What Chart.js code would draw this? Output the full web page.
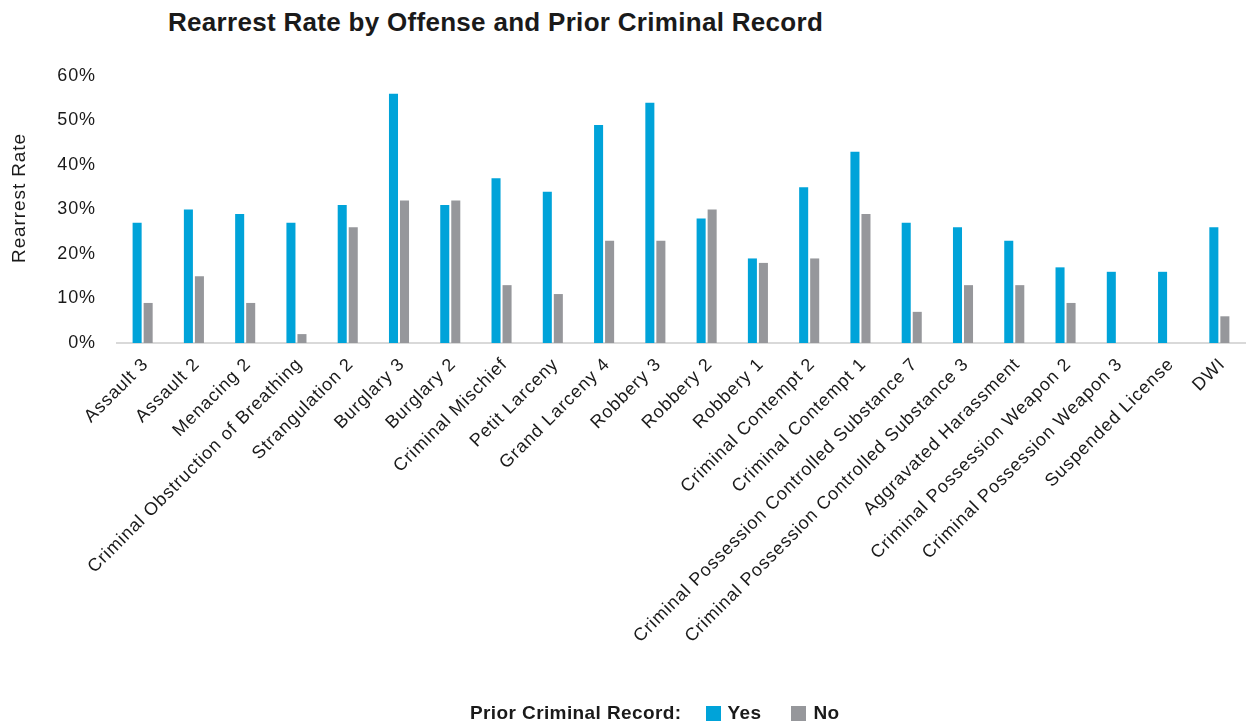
<!DOCTYPE html>
<html>
<head>
<meta charset="utf-8">
<script src="https://cdn.jsdelivr.net/npm/chart.js@4"></script>
<style>
  html, body { margin: 0; padding: 0; background: #fff; }
  body { width: 1249px; height: 727px; position: relative; overflow: hidden;
         font-family: "Liberation Sans", Arial, Helvetica, sans-serif; color: #1a1a1a; }
  #title { position: absolute; left: 168px; top: 7px; font-size: 26px; font-weight: bold;
           line-height: 30px; letter-spacing: 0.3px; white-space: nowrap; }
  #legend { position: absolute; left: 470px; top: 701px; display: flex; align-items: center;
            font-size: 19px; font-weight: bold; line-height: 24px; letter-spacing: 0.4px; white-space: nowrap; }
  #legend .box { width: 15px; height: 15px; display: inline-block; margin-right: 7px; }
  canvas { position: absolute; left: 0; top: 0; }
</style>
</head>
<body>
<div id="title">Rearrest Rate by Offense and Prior Criminal Record</div>
<canvas id="chart" width="1249" height="727"></canvas>
<div id="legend"></div>
<script>
// ---- Data ----
const offenses = [
  'Assault 3', 'Assault 2', 'Menacing 2', 'Criminal Obstruction of Breathing',
  'Strangulation 2', 'Burglary 3', 'Burglary 2', 'Criminal Mischief',
  'Petit Larceny', 'Grand Larceny 4', 'Robbery 3', 'Robbery 2', 'Robbery 1',
  'Criminal Contempt 2', 'Criminal Contempt 1',
  'Criminal Possession Controlled Substance 7',
  'Criminal Possession Controlled Substance 3',
  'Aggravated Harassment', 'Criminal Possession Weapon 2',
  'Criminal Possession Weapon 3', 'Suspended License', 'DWI'
];
const priorYes = [27, 30, 29, 27, 31, 56, 31, 37, 34, 49, 54, 28, 19, 35, 43, 27, 26, 23, 17, 16, 16, 26];
const priorNo  = [9, 15, 9, 2, 26, 32, 32, 13, 11, 23, 23, 30, 18, 19, 29, 7, 13, 13, 9, null, null, 6];
const yTicks = [0, 10, 20, 30, 40, 50, 60];

const BLUE = '#00a3d9';
const GREY = '#96979b';
const FONT = "'Liberation Sans', Arial, Helvetica, sans-serif";

// ---- Legend (title + swatches) ----
const legendItems = [['Yes', BLUE], ['No', GREY]];
document.getElementById('legend').innerHTML =
  '<span style="margin-right:24px">Prior Criminal Record:</span>' +
  legendItems.map(([name, color], i) =>
    `<span class="box" style="background:${color}"></span><span style="margin-right:${i === 0 ? 30 : 0}px">${name}</span>`
  ).join('');

// the reference type is set a little loose, so widen canvas text too
const looseText = {
  id: 'looseText',
  beforeLayout(chart) { chart.ctx.letterSpacing = '0.9px'; },
  beforeDraw(chart) { chart.ctx.letterSpacing = '0.9px'; }
};

// y axis title sits a bit above the plot's middle in the original
const yTitle = {
  id: 'yTitle',
  afterDraw(chart) {
    const ctx = chart.ctx;
    ctx.save();
    ctx.letterSpacing = '0.9px';
    ctx.translate(20, 198);
    ctx.rotate(-Math.PI / 2);
    ctx.font = `19px ${FONT}`;
    ctx.fillStyle = '#1a1a1a';
    ctx.textAlign = 'center';
    ctx.textBaseline = 'middle';
    ctx.fillText('Rearrest Rate', 0, 0);
    ctx.restore();
  }
};

// ---- Chart ----
new Chart(document.getElementById('chart'), {
  type: 'bar',
  data: {
    labels: offenses,
    datasets: [
      { label: 'Yes', data: priorYes, backgroundColor: BLUE },
      { label: 'No', data: priorNo, backgroundColor: GREY }
    ]
  },
  plugins: [looseText, yTitle],
  options: {
    responsive: false,
    animation: false,
    categoryPercentage: 0.43,
    barPercentage: 0.82,
    layout: { padding: { top: 76, left: 8, right: 4, bottom: 40 } },
    plugins: {
      legend: { display: false },
      title: { display: false },
      tooltip: { enabled: false }
    },
    scales: {
      x: {
        grid: { display: false, drawTicks: false },
        border: { display: true, color: '#d9d9d9', width: 2 },
        ticks: {
          color: '#1a1a1a',
          font: { family: FONT, size: 18 },
          maxRotation: 45,
          minRotation: 45,
          autoSkip: false,
          padding: 11,
          labelOffset: 3
        },
        afterFit: (s) => { s.height = 344; }
      },
      y: {
        min: yTicks[0],
        max: yTicks[yTicks.length - 1],
        grid: { display: false, drawTicks: false },
        border: { display: false },
        afterBuildTicks: (s) => { s.ticks = yTicks.map(v => ({ value: v })); },
        ticks: {
          color: '#1a1a1a',
          font: { family: FONT, size: 18 },
          padding: 21,
          callback: (v) => v + '%'
        },
        afterFit: (s) => { s.width = 109; }
      }
    }
  }
});
</script>
</body>
</html>
